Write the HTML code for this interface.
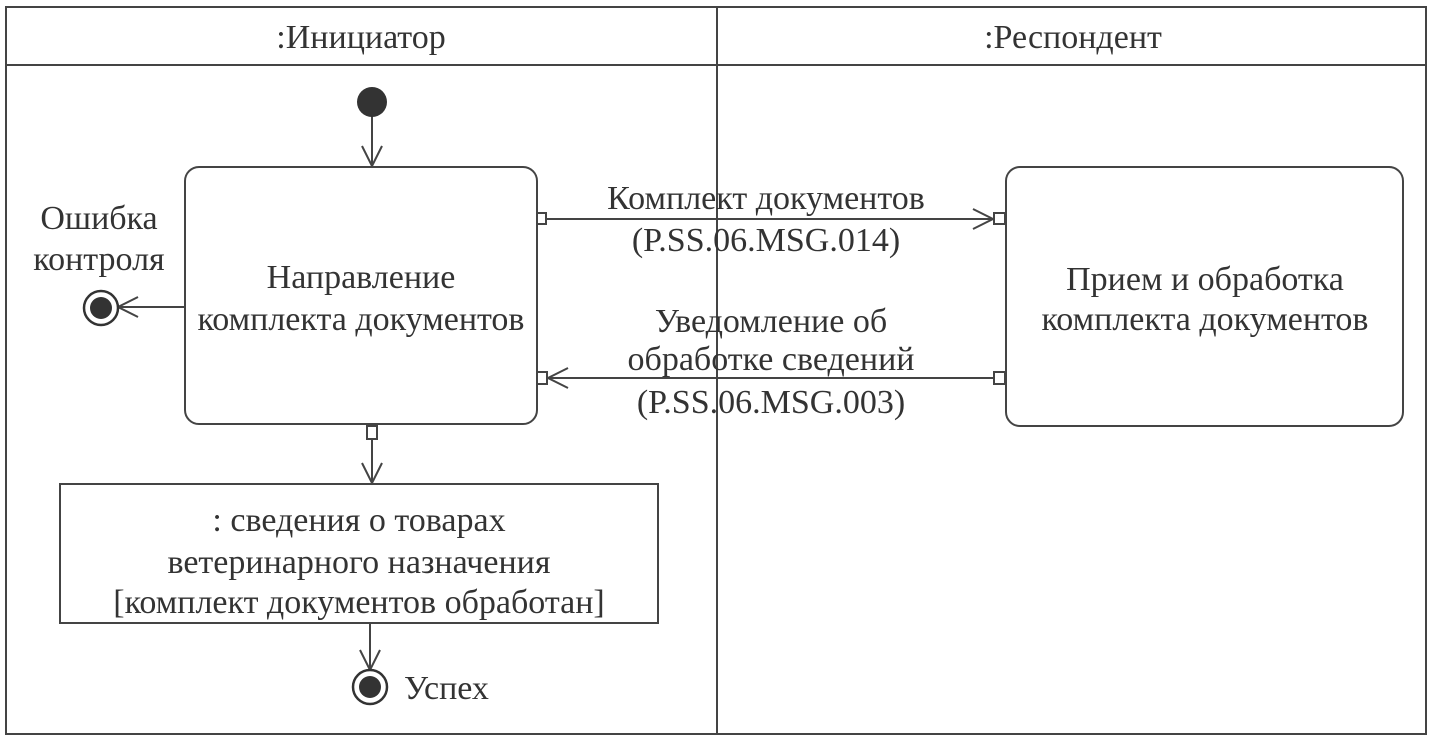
<!DOCTYPE html>
<html><head><meta charset="utf-8"><style>
html,body{margin:0;padding:0;background:#fff;}
svg text{font-family:"Liberation Serif","DejaVu Serif",serif;font-size:34px;fill:#333;}
</style></head><body>
<svg width="1434" height="738" xmlns="http://www.w3.org/2000/svg">
<g stroke="#444" stroke-width="2" fill="none">
<rect x="6" y="7" width="1420" height="727"/>
<line x1="6" y1="65" x2="1426" y2="65"/>
<line x1="717" y1="7" x2="717" y2="734"/>
<rect x="185" y="167" width="352" height="257" rx="14"/>
<rect x="1006" y="167" width="397" height="259" rx="14"/>
<rect x="60" y="484" width="598" height="139"/>
<line x1="372" y1="110" x2="372" y2="166"/>
<polyline points="362,146 372,166 382,146"/>
<line x1="185" y1="307" x2="118" y2="307"/>
<polyline points="138,297 118,307 138,317"/>
<rect x="367" y="426" width="10" height="13" fill="#fff"/>
<line x1="372" y1="439" x2="372" y2="483"/>
<polyline points="362,463 372,483 382,463"/>
<line x1="370" y1="623" x2="370" y2="670"/>
<polyline points="360,650 370,670 380,650"/>
<rect x="537" y="213" width="9" height="11" fill="#fff"/>
<line x1="546" y1="219" x2="993" y2="219"/>
<polyline points="973,209 993,219 973,229"/>
<rect x="994" y="213" width="11" height="11" fill="#fff"/>
<rect x="994" y="372" width="11" height="12" fill="#fff"/>
<line x1="994" y1="378" x2="548" y2="378"/>
<polyline points="568,368 548,378 568,388"/>
<rect x="537" y="372" width="10" height="12" fill="#fff"/>
</g>
<circle cx="372" cy="102" r="15" fill="#333"/>
<circle cx="101" cy="308" r="17" fill="#fff" stroke="#333" stroke-width="2.5"/>
<circle cx="101" cy="308" r="11" fill="#333"/>
<circle cx="370" cy="687" r="17" fill="#fff" stroke="#333" stroke-width="2.5"/>
<circle cx="370" cy="687" r="11" fill="#333"/>
<g text-anchor="middle">
<text x="361" y="48">:Инициатор</text>
<text x="1073" y="48">:Респондент</text>
<text x="99" y="229">Ошибка</text>
<text x="99" y="270">контроля</text>
<text x="361" y="288">Направление</text>
<text x="361" y="330">комплекта документов</text>
<text x="1205" y="290">Прием и обработка</text>
<text x="1205" y="330">комплекта документов</text>
<text x="766" y="209">Комплект документов</text>
<text x="766" y="251">(P.SS.06.MSG.014)</text>
<text x="771" y="332">Уведомление об</text>
<text x="771" y="370">обработке сведений</text>
<text x="771" y="413">(P.SS.06.MSG.003)</text>
<text x="359" y="531">: сведения о товарах</text>
<text x="359" y="573">ветеринарного назначения</text>
<text x="359" y="613">[комплект документов обработан]</text>
</g>
<text x="404" y="699">Успех</text>
</svg>
</body></html>
